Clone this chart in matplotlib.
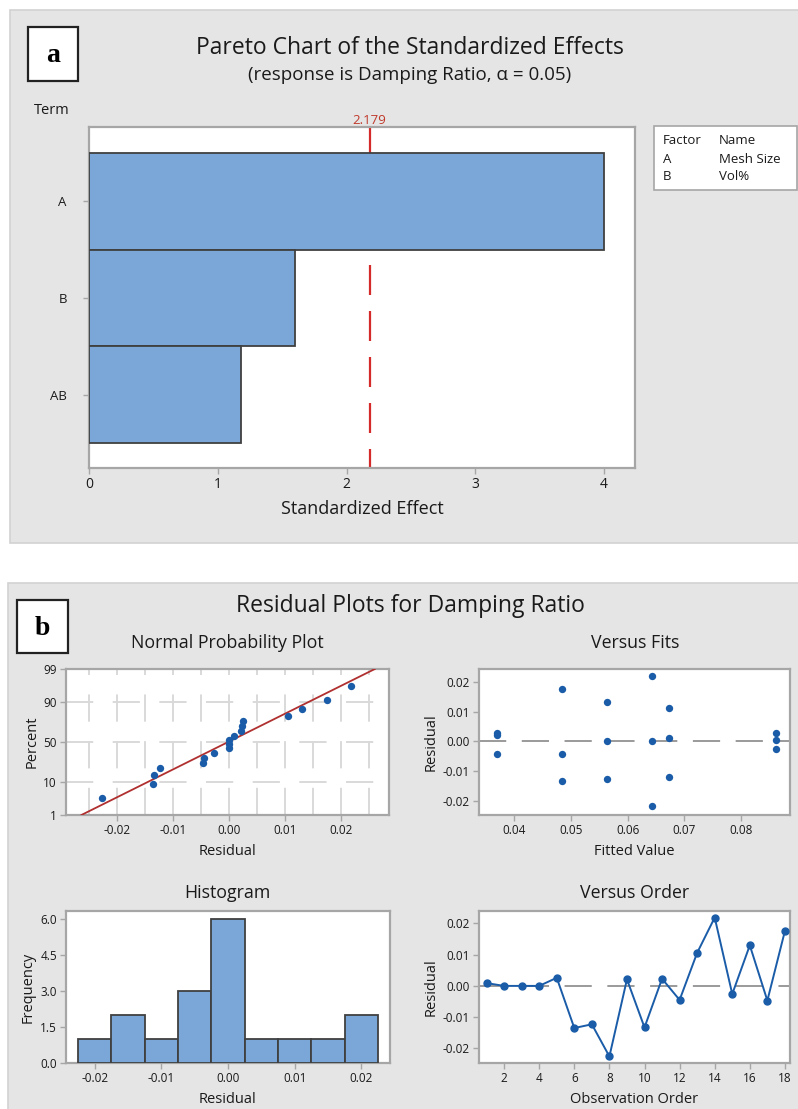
import matplotlib
matplotlib.use("Agg")
import matplotlib.pyplot as plt
from matplotlib.patches import Rectangle
from matplotlib.ticker import FormatStrFormatter, MultipleLocator
from statistics import NormalDist
import numpy as np

plt.rcParams['font.family'] = ['Open Sans', 'DejaVu Sans']

# ---- data ----
terms = ['A', 'B', 'AB']
effects = [4.00, 1.60, 1.18]
t_crit = 2.179

# residuals in observation order
residuals = [0.0009, 0.0000, 0.0000, 0.0000, 0.0026, -0.0135, -0.0123, -0.0226, 0.0021,
             -0.0133, 0.0023, -0.0045, 0.0106, 0.0219, -0.0026, 0.0130, -0.0047, 0.0176]
order = list(range(1, 19))

# versus fits
fitted = [0.0369, 0.0369, 0.0369, 0.0485, 0.0485, 0.0485, 0.0563, 0.0563, 0.0563,
          0.0642, 0.0642, 0.0642, 0.0673, 0.0673, 0.0673, 0.0861, 0.0861, 0.0861]
fit_resid = [0.0027, 0.0023, -0.0044, 0.0178, -0.0044, -0.0135, 0.0133, 0.0003, -0.0128,
             0.0221, 0.0003, -0.0219, 0.0113, 0.0011, -0.0119, 0.0030, 0.0006, -0.0025]

# histogram
bin_centers = [-0.020, -0.015, -0.010, -0.005, 0.000, 0.005, 0.010, 0.015, 0.020]
bin_counts = [1, 2, 1, 3, 6, 1, 1, 1, 2]
bin_width = 0.005

# ---- styling ----
W, H = 798, 1109
BAR = '#7ba7d8'
EDGE = '#404040'
PT = '#1a5ca8'
SPINE = '#a6a6a6'
TXT = '#1a1a1a'
PANEL = '#e5e5e5'

fig = plt.figure(figsize=(W / 100, H / 100), dpi=100)
fig.patch.set_facecolor('white')


def box(l, t, r, b):
    return [l / W, 1 - b / H, (r - l) / W, (b - t) / H]


def ftext(x, y, s, **kw):
    kw.setdefault('ha', 'center')
    kw.setdefault('va', 'center')
    kw.setdefault('color', TXT)
    return fig.text(x / W, 1 - y / H, s, **kw)


def frect(l, t, r, b, **kw):
    fig.patches.append(Rectangle((l / W, 1 - b / H), (r - l) / W, (b - t) / H,
                                 transform=fig.transFigure, **kw))


def style(ax, fs=8.5):
    for s in ax.spines.values():
        s.set_color(SPINE)
        s.set_linewidth(1.6)
    ax.tick_params(colors=SPINE, labelcolor=TXT, labelsize=fs, length=4, width=1, pad=2.5)


def labels(ax, xl, yl):
    ax.set_xlabel(xl, fontsize=10.5, color=TXT, labelpad=5)
    ax.set_ylabel(yl, fontsize=10.5, color=TXT, labelpad=3)


# gray panels
for l, t, r, b in [(10, 10, 800, 543), (8, 583, 800, 1112)]:
    frect(l, t, r, b, facecolor=PANEL, edgecolor='#d2d2d2', lw=1.2, zorder=-2)

# panel labels
for l, t, r, b, s in [(28, 27, 78, 81, 'a'), (17, 600, 68, 653, 'b')]:
    frect(l, t, r, b, facecolor='white', edgecolor='#222222', lw=1.6, zorder=-1)
    ftext((l + r) / 2, (t + b) / 2 + 2, s, family='Liberation Serif', weight='bold',
          fontsize=20, color='black')

# ---- a) Pareto chart ----
ax = fig.add_axes(box(89, 127, 635, 468))
style(ax, 10)
ypos = np.arange(len(terms))
ax.barh(ypos, effects, height=1.0, color=BAR, edgecolor=EDGE, lw=1.3, zorder=3)
ax.set_ylim(2.76, -0.77)
ax.set_xlim(0, 4.24)
yl = ax.get_ylim()
ax.plot([t_crit, t_crit], [yl[1], yl[0]], color='#d42a2a', lw=1.6,
        dashes=(13.5, 7.2), zorder=2)
ax.set_yticks(ypos)
ax.set_yticklabels(terms, fontsize=9.5)
ax.tick_params(axis='y', pad=12)
ax.set_xticks([0, 1, 2, 3, 4])
ax.set_xlabel('Standardized Effect', fontsize=13, color=TXT, labelpad=6)
ax.text(t_crit, -0.77, f'{t_crit:.3f}', color='#c0392b', fontsize=9.5,
        ha='center', va='bottom', transform=ax.transData)
ftext(52, 111, 'Term', fontsize=10.5)

ftext(410, 48, 'Pareto Chart of the Standardized Effects', fontsize=16.5)
ftext(410, 75, '(response is Damping Ratio, \u03b1 = 0.05)', fontsize=13.5)

# legend table
frect(654, 126, 797, 190, facecolor='white', edgecolor='#a6a6a6', lw=1.2, zorder=-1)
for i, (f, n) in enumerate([('Factor', 'Name'), ('A', 'Mesh Size'), ('B', 'Vol%')]):
    ftext(663, 141 + 18 * i, f, ha='left', fontsize=9.5)
    ftext(719, 141 + 18 * i, n, ha='left', fontsize=9.5)

# ---- b) residual plots ----
ftext(410, 606, 'Residual Plots for Damping Ratio', fontsize=16.5)

# normal probability plot
nd = NormalDist()
ax1 = fig.add_axes(box(66, 669, 389, 815))
style(ax1)
n = len(residuals)
rs = np.sort(residuals)
zq = [nd.inv_cdf((i + 1 - 0.3) / (n + 0.4)) for i in range(n)]
mu, sd = np.mean(residuals), np.std(residuals, ddof=1)
zlim = (nd.inv_cdf(0.01), nd.inv_cdf(0.99))
ax1.set_ylim(*zlim)
ax1.set_xlim(-0.0291, 0.0286)
ax1.set_yticks([nd.inv_cdf(p / 100) for p in [1, 10, 50, 90, 99]])
ax1.set_yticklabels(['1', '10', '50', '90', '99'])
ax1.set_xticks([-0.02, -0.01, 0.0, 0.01, 0.02])
ax1.xaxis.set_major_formatter(FormatStrFormatter('%.2f'))
ax1.xaxis.set_minor_locator(MultipleLocator(0.005))
ax1.tick_params(which='minor', length=0)
ax1.grid(axis='x', which='both', color='#d9d9d9', lw=1.4, dashes=(14, 10))
ax1.grid(axis='y', which='major', color='#d9d9d9', lw=1.4, dashes=(14, 10))
ax1.set_axisbelow(True)
ax1.plot([mu + sd * zlim[0], mu + sd * zlim[1]], zlim, color='#b03030', lw=1.3, zorder=3)
ax1.scatter(rs, zq, s=28, color=PT, zorder=4, lw=0)
labels(ax1, 'Residual', 'Percent')
ftext(227, 643, 'Normal Probability Plot', fontsize=12.8)

# versus fits
ax2 = fig.add_axes(box(479, 669, 790, 815))
style(ax2)
ax2.axhline(0, color='#9a9a9a', lw=1.4, dashes=(14, 8), zorder=1)
ax2.scatter(fitted, fit_resid, s=28, color=PT, zorder=4, lw=0)
ax2.set_xlim(0.0338, 0.0886)
ax2.set_ylim(-0.0249, 0.0245)
ax2.set_xticks([0.04, 0.05, 0.06, 0.07, 0.08])
ax2.set_yticks([-0.02, -0.01, 0.0, 0.01, 0.02])
ax2.xaxis.set_major_formatter(FormatStrFormatter('%.2f'))
ax2.yaxis.set_major_formatter(FormatStrFormatter('%.2f'))
labels(ax2, 'Fitted Value', 'Residual')
ftext(635, 643, 'Versus Fits', fontsize=12.8)

# histogram
ax3 = fig.add_axes(box(66, 911, 390, 1063))
style(ax3)
ax3.bar(bin_centers, bin_counts, width=bin_width, color=BAR, edgecolor=EDGE, lw=1.3, zorder=3)
ax3.set_xlim(-0.0243, 0.0243)
ax3.set_ylim(0, 6.33)
ax3.set_yticks([0, 1.5, 3.0, 4.5, 6.0])
ax3.yaxis.set_major_formatter(FormatStrFormatter('%.1f'))
ax3.set_xticks([-0.02, -0.01, 0.0, 0.01, 0.02])
ax3.xaxis.set_major_formatter(FormatStrFormatter('%.2f'))
labels(ax3, 'Residual', 'Frequency')
ftext(227, 893, 'Histogram', fontsize=12.8)

# versus order
ax4 = fig.add_axes(box(479, 911, 790, 1063))
style(ax4)
ax4.axhline(0, color='#9a9a9a', lw=1.4, dashes=(14, 8), zorder=1)
ax4.plot(order, residuals, color=PT, lw=1.4, marker='o', ms=5, zorder=4)
ax4.set_xlim(0.57, 18.29)
ax4.set_ylim(-0.0247, 0.024)
ax4.set_xticks(range(2, 19, 2))
ax4.set_yticks([-0.02, -0.01, 0.0, 0.01, 0.02])
ax4.yaxis.set_major_formatter(FormatStrFormatter('%.2f'))
labels(ax4, 'Observation Order', 'Residual')
ftext(635, 893, 'Versus Order', fontsize=12.8)

fig.savefig('out.png', dpi=100)
